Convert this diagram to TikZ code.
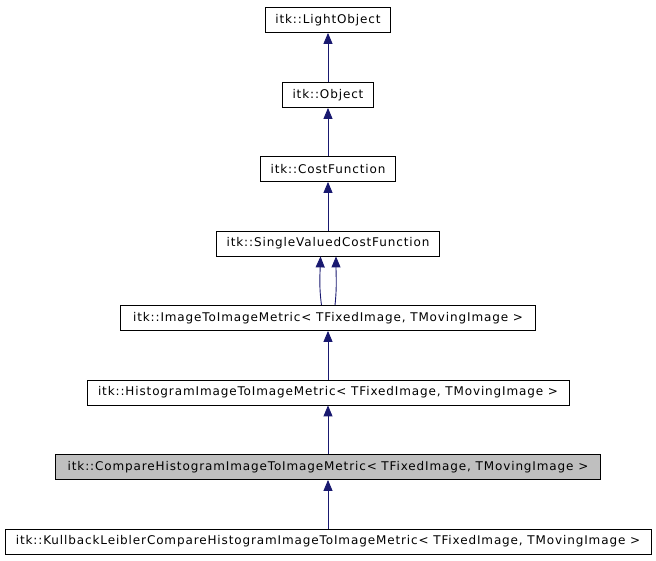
\documentclass[tikz,border=0pt]{standalone}
\usepackage{fontspec}
\setmainfont{DejaVu Sans}[LetterSpace=7.3]
\usetikzlibrary{arrows.meta}
\definecolor{edgeblue}{HTML}{191970}
\definecolor{hlgrey}{HTML}{BFBFBF}
\begin{document}
\begin{tikzpicture}[x=1pt,y=-1pt,
  cls/.style={draw=black,line width=0.8pt,fill=white,inner sep=0pt,minimum height=25pt,font=\fontsize{12pt}{14pt}\selectfont,anchor=center},
  cur/.style={cls,fill=hlgrey},
  inh/.style={draw=edgeblue,line width=0.9pt,-{Triangle[length=11pt,width=9pt]}}]
\useasboundingbox (0,0) rectangle (656,560);
\node[cls,minimum width=125pt] (lo) at (328,20) {itk::LightObject};
\node[cls,minimum width=91pt] (ob) at (328,95) {itk::Object};
\node[cls,minimum width=135pt] (cf) at (328,169) {itk::CostFunction};
\node[cls,minimum width=223pt] (sv) at (328,243.5) {itk::SingleValuedCostFunction};
\node[cls,minimum width=415pt] (im) at (328,318) {itk::ImageToImageMetric< TFixedImage, TMovingImage >};
\node[cls,minimum width=482pt] (hi) at (328,392.5) {itk::HistogramImageToImageMetric< TFixedImage, TMovingImage >};
\node[cur,minimum width=545pt] (ch) at (328,467) {itk::CompareHistogramImageToImageMetric< TFixedImage, TMovingImage >};
\node[cls,minimum width=646pt] (kl) at (328,541.5) {itk::KullbackLeiblerCompareHistogramImageToImageMetric< TFixedImage, TMovingImage >};
\draw[inh] (ob.north) -- (lo.south);
\draw[inh] (cf.north) -- (ob.south);
\draw[inh] (sv.north) -- (cf.south);
\draw[inh] ([xshift=-6.5pt]im.north) .. controls ([xshift=-9pt,yshift=18pt]im.north) and ([xshift=-8pt,yshift=-18pt]sv.south) .. ([xshift=-7.5pt]sv.south);
\draw[inh] ([xshift=7pt]im.north) .. controls ([xshift=9pt,yshift=18pt]im.north) and ([xshift=8pt,yshift=-18pt]sv.south) .. ([xshift=8pt]sv.south);
\draw[inh] (hi.north) -- (im.south);
\draw[inh] (ch.north) -- (hi.south);
\draw[inh] (kl.north) -- (ch.south);
\end{tikzpicture}
\end{document}
